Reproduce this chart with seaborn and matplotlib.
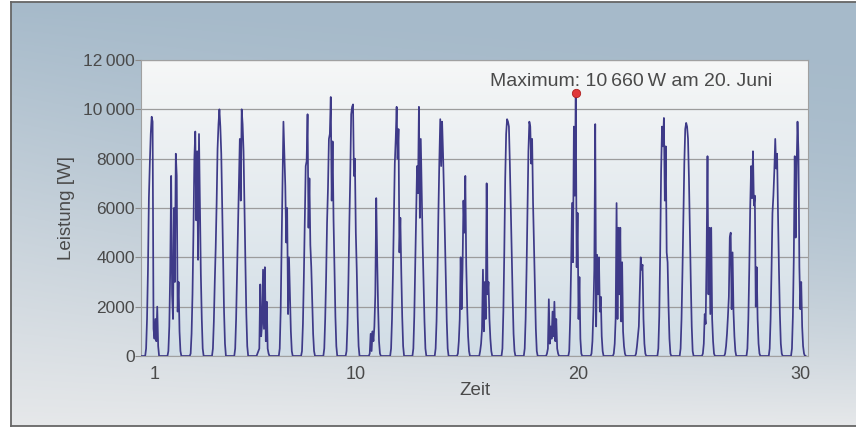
import numpy as np
import pandas as pd
import matplotlib
matplotlib.use("Agg")
import matplotlib.pyplot as plt
import seaborn as sns
from matplotlib.colors import LinearSegmentedColormap

# Leistung [W] je Stunde (7 bis 20 Uhr), Juni
hours = list(range(7, 21))
juni_01 = [300, 1500, 3500, 6400, 7800, 9000, 9700, 9500, 1100, 700, 1500, 600, 2000, 400]
juni_02 = [200, 1200, 3500, 7300, 2500, 1500, 6000, 3000, 8200, 7300, 1800, 3000, 1000, 200]
juni_03 = [100, 900, 2500, 5000, 8000, 9100, 5500, 8300, 3900, 9000, 6200, 3300, 1500, 300]
juni_04 = [300, 1400, 3000, 4400, 6200, 8400, 9400, 10000, 9300, 8200, 6000, 3700, 1800, 500]
juni_05 = [300, 1500, 3300, 5200, 6900, 8800, 6300, 10000, 9400, 8300, 6000, 3800, 1700, 400]
juni_06 = [100, 200, 300, 2900, 800, 1300, 3500, 1100, 3600, 600, 2200, 300, 100, 0]
juni_07 = [300, 1800, 4500, 7000, 9500, 8200, 6900, 4600, 6000, 1700, 4000, 2500, 1000, 200]
juni_08 = [200, 1300, 3200, 5400, 7700, 7900, 9800, 5200, 7200, 4500, 3600, 2200, 900, 200]
juni_09 = [300, 1500, 3200, 5400, 6800, 8800, 9000, 10500, 6300, 8700, 5500, 3600, 1600, 400]
juni_10 = [200, 1300, 3000, 5300, 7300, 9800, 10100, 10200, 7300, 8000, 5000, 3500, 1600, 400]
juni_11 = [0, 100, 900, 200, 1000, 600, 1200, 2500, 6400, 4000, 2000, 600, 100, 0]
juni_12 = [300, 1500, 3300, 5500, 7800, 8800, 10100, 8000, 9200, 4200, 5600, 3400, 1600, 400]
juni_13 = [300, 1600, 3600, 5800, 7700, 6600, 10100, 5600, 8800, 6700, 4600, 3000, 1400, 300]
juni_14 = [300, 1400, 3400, 5800, 7900, 9600, 7700, 9500, 8200, 6600, 4800, 3000, 1400, 300]
juni_15 = [100, 600, 1500, 4000, 1900, 3500, 6300, 5000, 7300, 3700, 2000, 800, 200, 0]
juni_16 = [200, 500, 1100, 3500, 1000, 3000, 1500, 7000, 2500, 3000, 1500, 700, 200, 0]
juni_17 = [300, 1800, 4200, 7200, 9000, 9600, 9500, 9300, 7800, 6000, 4200, 2400, 900, 200]
juni_18 = [300, 1500, 3500, 6000, 8300, 9500, 9300, 7800, 8800, 6200, 4500, 2700, 1100, 200]
juni_19 = [100, 300, 2300, 500, 1200, 700, 1800, 800, 2200, 600, 1500, 300, 100, 0]
juni_20 = [200, 1500, 3600, 6200, 3800, 9300, 6500, 10660, 3600, 5800, 1500, 3200, 700, 100]
juni_21 = [100, 600, 1800, 3500, 9400, 1200, 4100, 2500, 4000, 1800, 2400, 800, 200, 0]
juni_22 = [100, 500, 1500, 6200, 1500, 5200, 2500, 5200, 1400, 3800, 1000, 400, 100, 0]
juni_23 = [100, 400, 800, 1200, 2600, 4000, 3500, 3700, 1500, 500, 100, 0, 0, 0]
juni_24 = [300, 1600, 4200, 7500, 9300, 8500, 9650, 6300, 8500, 4200, 3800, 2000, 700, 100]
juni_25 = [300, 1500, 3400, 5600, 7800, 9200, 9450, 9300, 8800, 7200, 5000, 3000, 1200, 200]
juni_26 = [100, 500, 1700, 1300, 4000, 8100, 2500, 5200, 1700, 5200, 1500, 600, 100, 0]
juni_27 = [100, 400, 900, 1600, 2400, 4800, 5000, 1900, 4200, 1800, 800, 200, 0, 0]
juni_28 = [300, 1500, 3500, 6000, 7700, 6400, 8300, 6100, 6500, 2000, 3600, 1500, 500, 100]
juni_29 = [300, 1500, 3500, 5800, 6500, 7500, 8800, 7600, 8200, 5700, 3500, 1700, 500, 100]
juni_30 = [300, 1600, 4000, 8100, 4800, 7600, 9500, 8300, 3600, 1900, 3000, 1200, 400, 100]

days = [juni_01, juni_02, juni_03, juni_04, juni_05, juni_06, juni_07, juni_08, juni_09, juni_10,
        juni_11, juni_12, juni_13, juni_14, juni_15, juni_16, juni_17, juni_18, juni_19, juni_20,
        juni_21, juni_22, juni_23, juni_24, juni_25, juni_26, juni_27, juni_28, juni_29, juni_30]

night_before = [2, 3, 4, 5, 6]
night_after = [21, 22]
tick_days = [1, 10, 20, 30]
y_ticks = [0, 2000, 4000, 6000, 8000, 10000, 12000]

rows = []
for d, vals in enumerate(days, start=1):
    hh = night_before + hours + night_after
    pp = [0] * len(night_before) + vals + [0] * len(night_after)
    for h, p in zip(hh, pp):
        rows.append([d, d + (h - 13.5) / 24, p])
df = pd.DataFrame(rows, columns=["Tag", "Zeit", "Leistung"])


def fmt(v):
    v = int(round(v))
    return f"{v:,}".replace(",", "\u2009") if v >= 10000 else str(v)


sns.set_style("white")
plt.rcParams["font.family"] = ["Liberation Sans", "DejaVu Sans"]
txt = "#4a4a4a"

fig = plt.figure(figsize=(8.56, 4.28), dpi=100)
fig.patch.set_facecolor("white")

# Hintergrund mit Verlauf
bg = fig.add_axes([11 / 856, 2 / 428, 845 / 856, 424 / 428])
H, W = 200, 400
tx = np.linspace(0, 1, W)[None, :]
ty = np.linspace(0, 1, H)[:, None]
s = ty ** (1 + 1.2 * tx)
top_c = np.array([166, 186, 202]) / 255
bot_c = np.array([230, 232, 234]) / 255
img = top_c + (bot_c - top_c) * s[..., None]
bg.imshow(img, aspect="auto", extent=[0, 1, 0, 1])
bg.set_xlim(0, 1)
bg.set_ylim(0, 1)
bg.set_xticks([])
bg.set_yticks([])
for side in ["left", "top", "bottom"]:
    bg.spines[side].set_color("#666666")
    bg.spines[side].set_linewidth(1.3)
bg.spines["right"].set_visible(False)

ax = fig.add_axes([141 / 856, 72 / 428, 667 / 856, 296 / 428])
xmin, xmax = 0.5, 30.45
ax.set_xlim(xmin, xmax)
ax.set_ylim(0, 12000)

cmap = LinearSegmentedColormap.from_list("plot_bg", ["#f6f7f7", "#d1dde6"])
ax.imshow(np.linspace(0, 1, 256).reshape(-1, 1), cmap=cmap, aspect="auto",
          extent=[xmin, xmax, 0, 12000], origin="upper", zorder=0)

ax.set_axisbelow(True)
ax.yaxis.grid(True, color="#9c9c9c", linewidth=0.9)
ax.xaxis.grid(False)

sns.lineplot(data=df, x="Zeit", y="Leistung", ax=ax, color="#3e3a88",
             linewidth=1.25, estimator=None, zorder=3)

imax = df["Leistung"].idxmax()
x_max, y_max = df.loc[imax, "Zeit"], df.loc[imax, "Leistung"]
ax.plot(x_max, y_max, "o", color="#e0383a", mec="#b02020", mew=0.6, ms=6, zorder=5)
ax.annotate(f"Maximum: {fmt(y_max)}\u2009W am {int(df.loc[imax, 'Tag'])}. Juni",
            xy=(x_max, y_max), xytext=(55, 12), textcoords="offset pixels",
            ha="center", va="center", fontsize=14, color=txt)

ax.set_xticks(np.array(tick_days) + 0.12)
ax.set_xticklabels([str(t) for t in tick_days])
ax.set_yticks(y_ticks)
ax.set_yticklabels([fmt(v) for v in y_ticks])
ax.tick_params(axis="x", length=0, pad=7, labelsize=13, labelcolor=txt)
ax.tick_params(axis="y", length=4, width=0.8, color="#8c8c8c", pad=0.5,
               labelsize=12.5, labelcolor=txt, left=True)

ax.set_xlabel("Zeit", fontsize=13.5, color=txt, va="center")
ax.set_ylabel("Leistung [W]", fontsize=13.5, color=txt, va="center")
ax.xaxis.set_label_coords(0.5, -0.115)
ax.yaxis.set_label_coords(-0.111, 0.5)

for side in ["left", "right", "top", "bottom"]:
    ax.spines[side].set_color("#a0a0a0")
    ax.spines[side].set_linewidth(0.8)

fig.savefig("out.png", dpi=100, facecolor=fig.get_facecolor())
